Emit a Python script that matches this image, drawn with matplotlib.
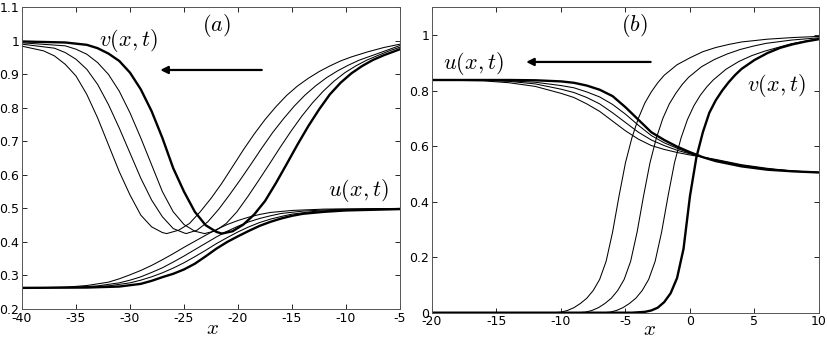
import matplotlib
matplotlib.use('Agg')
import matplotlib.pyplot as plt

plt.rcParams['font.family'] = ['DejaVu Sans']
plt.rcParams['mathtext.fontset'] = 'cm'
plt.rcParams['axes.unicode_minus'] = False

# ---------------- panel (a) ----------------
# v(x,t): three thin curves (later times) and the thick one (initial)
va1_x = [-40, -38, -37, -36, -35, -34, -33, -32, -31, -30, -29, -28, -27, -26.6, -25.5, -24.5, -23.5, -22.5,
         -21.5, -20.5, -19.5, -18.5, -17.5, -16.5, -15.5, -14.5, -13.5, -12.5, -11.5, -10.5, -9.5, -8, -6.5, -5]
va1_y = [0.984, 0.97, 0.955, 0.93, 0.895, 0.84, 0.77, 0.69, 0.61, 0.54, 0.48, 0.445, 0.428, 0.425, 0.435, 0.455,
         0.49, 0.53, 0.575, 0.625, 0.675, 0.722, 0.765, 0.803, 0.837, 0.865, 0.888, 0.908, 0.925, 0.94, 0.952,
         0.967, 0.98, 0.99]
va2_x = [-40, -37, -36, -35, -34, -33, -32, -31, -30, -29, -28, -27, -26, -25, -24.8, -23.8, -22.8, -21.8, -20.8,
         -19.8, -18.8, -17.8, -16.8, -15.8, -14.8, -13.8, -12.8, -11.8, -10.8, -9.8, -8.8, -7.5, -6.2, -5]
va2_y = [0.99, 0.978, 0.965, 0.945, 0.915, 0.87, 0.81, 0.74, 0.665, 0.59, 0.525, 0.475, 0.44, 0.427, 0.425,
         0.435, 0.46, 0.497, 0.54, 0.585, 0.632, 0.68, 0.726, 0.767, 0.805, 0.838, 0.866, 0.89, 0.91, 0.927,
         0.942, 0.957, 0.972, 0.986]
va3_x = [-40, -36, -35, -34, -33, -32, -31, -30, -29, -28, -27, -26, -25, -24, -23.1, -22.1, -21.1, -20.1, -19.1,
         -18.1, -17.1, -16.1, -15.1, -14.1, -13.1, -12.1, -11.1, -10.1, -9.1, -8.1, -7, -6, -5]
va3_y = [0.994, 0.985, 0.975, 0.96, 0.935, 0.9, 0.85, 0.785, 0.71, 0.63, 0.55, 0.49, 0.452, 0.432, 0.425, 0.433,
         0.455, 0.49, 0.535, 0.583, 0.632, 0.682, 0.73, 0.775, 0.815, 0.85, 0.88, 0.905, 0.925, 0.942, 0.957,
         0.97, 0.981]
va4_x = [-40, -36, -34, -33, -32, -31, -30, -29, -28, -27, -26, -25, -24, -23, -22, -21.5, -20.5, -19.5, -18.5,
         -17.5, -16.5, -15.5, -14.5, -13.5, -12.5, -11.5, -10.5, -9.5, -8.5, -7.5, -6.5, -5.5, -5]
va4_y = [0.998, 0.995, 0.988, 0.978, 0.962, 0.94, 0.905, 0.855, 0.79, 0.71, 0.62, 0.55, 0.49, 0.45, 0.43, 0.425,
         0.432, 0.452, 0.482, 0.522, 0.575, 0.632, 0.69, 0.745, 0.795, 0.84, 0.875, 0.903, 0.925, 0.943, 0.957,
         0.969, 0.975]

# u(x,t)
ua1_x = [-40, -36, -34, -32, -31, -30, -29, -28, -27, -26, -25, -24, -23, -22, -21, -20, -19, -18, -17, -15, -12, -5]
ua1_y = [0.263, 0.265, 0.27, 0.28, 0.29, 0.302, 0.315, 0.33, 0.347, 0.365, 0.384, 0.402, 0.42, 0.437, 0.452,
         0.464, 0.474, 0.482, 0.488, 0.494, 0.498, 0.5]
ua2_x = [-40, -35, -33, -31, -30, -29, -28, -27, -26, -25, -24, -23, -22, -21, -20, -19, -18, -17, -16, -14, -11, -5]
ua2_y = [0.263, 0.265, 0.269, 0.278, 0.286, 0.296, 0.309, 0.323, 0.34, 0.358, 0.377, 0.396, 0.415, 0.432, 0.447,
         0.46, 0.47, 0.478, 0.485, 0.492, 0.497, 0.5]
ua3_x = [-40, -34, -32, -30, -29, -28, -27, -26, -25, -24, -23, -22, -21, -20, -19, -18, -17, -16, -15, -13, -10, -5]
ua3_y = [0.263, 0.265, 0.269, 0.278, 0.286, 0.296, 0.308, 0.322, 0.338, 0.356, 0.375, 0.395, 0.413, 0.43, 0.445,
         0.458, 0.468, 0.476, 0.483, 0.491, 0.496, 0.499]
ua4_x = [-40, -34, -31, -29, -28, -27, -26, -25, -24, -23, -22, -21, -20, -19, -18, -17, -16, -15, -14, -12, -10, -5]
ua4_y = [0.263, 0.264, 0.267, 0.275, 0.284, 0.295, 0.305, 0.318, 0.335, 0.357, 0.38, 0.4, 0.417, 0.433, 0.448,
         0.46, 0.47, 0.478, 0.484, 0.49, 0.494, 0.498]

# ---------------- panel (b) ----------------
vb1_x = [-20, -10.5, -10, -9.5, -9, -8.5, -8, -7.5, -7, -6.5, -6, -5.5, -5, -4.5, -4, -3.5, -3, -2.5, -2, -1, 0,
         1, 2, 3, 4, 6, 8, 10]
vb1_y = [0.0, 0.0, 0.002, 0.008, 0.018, 0.033, 0.052, 0.08, 0.12, 0.185, 0.29, 0.42, 0.54, 0.63, 0.70, 0.755,
         0.795, 0.828, 0.855, 0.893, 0.918, 0.94, 0.955, 0.966, 0.975, 0.985, 0.991, 0.995]
vb2_x = [-20, -8.6, -8.1, -7.6, -7.1, -6.6, -6.1, -5.6, -5.1, -4.6, -4.1, -3.6, -3.1, -2.6, -2.1, -1.6, -1.1,
         -0.6, -0.1, 0.9, 1.9, 2.9, 3.9, 4.9, 5.9, 7.9, 10]
vb2_y = [0.0, 0.0, 0.002, 0.008, 0.018, 0.033, 0.052, 0.08, 0.12, 0.185, 0.29, 0.42, 0.54, 0.63, 0.70, 0.752,
         0.79, 0.822, 0.848, 0.886, 0.912, 0.932, 0.948, 0.96, 0.97, 0.982, 0.99]
vb3_x = [-20, -6.7, -6.2, -5.7, -5.2, -4.7, -4.2, -3.7, -3.2, -2.7, -2.2, -1.7, -1.2, -0.7, -0.2, 0.3, 0.8, 1.3,
         1.8, 2.8, 3.8, 4.8, 5.8, 6.8, 7.8, 10]
vb3_y = [0.0, 0.0, 0.002, 0.008, 0.018, 0.033, 0.052, 0.08, 0.12, 0.185, 0.29, 0.42, 0.54, 0.628, 0.695, 0.745,
         0.783, 0.813, 0.838, 0.877, 0.905, 0.926, 0.942, 0.955, 0.968, 0.987]
vb4_x = [-20, -4.5, -3.5, -3, -2.5, -2, -1.5, -1, -0.5, 0, 0.5, 1, 1.5, 2, 2.5, 3, 3.5, 4, 5, 6, 7, 8, 9, 10]
vb4_y = [0.0, 0.0, 0.003, 0.008, 0.018, 0.038, 0.07, 0.125, 0.23, 0.42, 0.56, 0.65, 0.72, 0.765, 0.8, 0.83,
         0.856, 0.878, 0.91, 0.935, 0.954, 0.967, 0.977, 0.985]

ub_x = [-20, -16, -14, -12, -10, -9, -8, -7, -6, -5, -4, -3, -2, -1, 0, 1, 2, 4, 6, 8, 10]
ub1_y = [0.838, 0.835, 0.828, 0.815, 0.79, 0.775, 0.752, 0.725, 0.69, 0.655, 0.625, 0.602, 0.588, 0.577, 0.568,
         0.56, 0.552, 0.533, 0.52, 0.51, 0.505]
ub2_y = [0.838, 0.837, 0.833, 0.824, 0.805, 0.793, 0.775, 0.752, 0.72, 0.685, 0.65, 0.622, 0.602, 0.585, 0.572,
         0.56, 0.55, 0.531, 0.518, 0.51, 0.505]
ub3_y = [0.838, 0.838, 0.835, 0.83, 0.818, 0.81, 0.795, 0.777, 0.75, 0.715, 0.675, 0.638, 0.612, 0.592, 0.574,
         0.56, 0.548, 0.529, 0.516, 0.509, 0.505]
ub4_y = [0.838, 0.838, 0.838, 0.837, 0.833, 0.828, 0.818, 0.803, 0.78, 0.74, 0.695, 0.65, 0.622, 0.598, 0.578,
         0.56, 0.546, 0.527, 0.515, 0.509, 0.505]

ticks_a_x = [-40, -35, -30, -25, -20, -15, -10, -5]
ticks_a_y = [0.2, 0.3, 0.4, 0.5, 0.6, 0.7, 0.8, 0.9, 1.0, 1.1]
ticks_b_x = [-20, -15, -10, -5, 0, 5, 10]
ticks_b_y = [0, 0.2, 0.4, 0.6, 0.8, 1.0]

THIN, THICK = 0.75, 1.7
MATH = 16


def style(ax, xt, yt, xlab_pos):
    ax.set_xticks(xt)
    ax.set_yticks(yt)
    ax.set_xticklabels(['%g' % t for t in xt])
    ax.set_yticklabels(['%g' % t for t in yt])
    ax.tick_params(direction='in', length=3.5, width=0.6, top=True, right=True,
                   labelsize=9, pad=2)
    for s in ax.spines.values():
        s.set_linewidth(0.7)
        s.set_color('#555555')
    ax.set_xlabel('$x$', fontsize=15, va='center')
    ax.xaxis.set_label_coords(*xlab_pos)


fig = plt.figure(figsize=(8.28, 3.39), dpi=100)
axa = fig.add_axes([0.0266, 0.0885, 0.4565, 0.890])
axb = fig.add_axes([0.5217, 0.0776, 0.4674, 0.901])

for xs, ys in [(va1_x, va1_y), (va2_x, va2_y), (va3_x, va3_y),
               (ua1_x, ua1_y), (ua2_x, ua2_y), (ua3_x, ua3_y)]:
    axa.plot(xs, ys, color='k', lw=THIN)
axa.plot(va4_x, va4_y, color='k', lw=THICK)
axa.plot(ua4_x, ua4_y, color='k', lw=THICK)
axa.set_xlim(-40, -5)
axa.set_ylim(0.2, 1.1)
style(axa, ticks_a_x, ticks_a_y, (0.505, -0.064))
axa.text(-22.0, 1.045, '$(a)$', fontsize=MATH, ha='center', va='center')
axa.text(-30.2, 1.0, '$v(x,t)$', fontsize=MATH, ha='center', va='center')
axa.text(-8.9, 0.554, '$u(x,t)$', fontsize=MATH, ha='center', va='center')
axa.annotate('', xy=(-27.2, 0.913), xytext=(-17.8, 0.913),
             arrowprops=dict(arrowstyle='-|>', color='k', lw=1.6, mutation_scale=11,
                             shrinkA=0, shrinkB=0))

for xs, ys in [(vb1_x, vb1_y), (vb2_x, vb2_y), (vb3_x, vb3_y)]:
    axb.plot(xs, ys, color='k', lw=THIN)
for ys in [ub1_y, ub2_y, ub3_y]:
    axb.plot(ub_x, ys, color='k', lw=THIN)
axb.plot(vb4_x, vb4_y, color='k', lw=THICK)
axb.plot(ub_x, ub4_y, color='k', lw=THICK)
axb.set_xlim(-20, 10)
axb.set_ylim(0, 1.1)
style(axb, ticks_b_x, ticks_b_y, (0.563, -0.052))
axb.text(-4.3, 1.036, '$(b)$', fontsize=MATH, ha='center', va='center')
axb.text(-16.8, 0.898, '$u(x,t)$', fontsize=MATH, ha='center', va='center')
axb.text(6.7, 0.82, '$v(x,t)$', fontsize=MATH, ha='center', va='center')
axb.annotate('', xy=(-12.7, 0.903), xytext=(-3.05, 0.903),
             arrowprops=dict(arrowstyle='-|>', color='k', lw=1.6, mutation_scale=11,
                             shrinkA=0, shrinkB=0))

fig.savefig('out.png', dpi=100)
